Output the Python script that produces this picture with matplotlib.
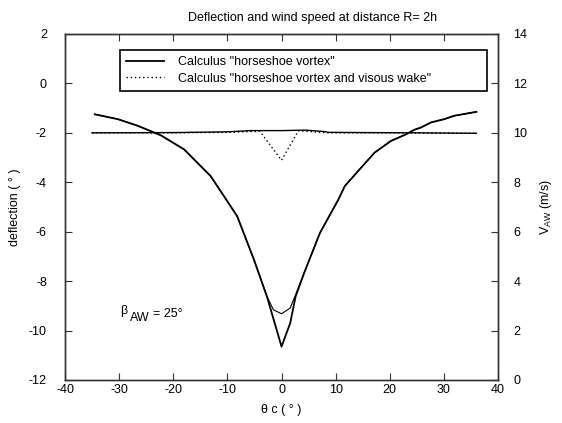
import matplotlib.pyplot as plt

# --- fonts ---
plt.rcParams['font.family'] = ['Liberation Sans', 'DejaVu Sans']
plt.rcParams['mathtext.fontset'] = 'custom'
plt.rcParams['mathtext.rm'] = 'Liberation Sans'
plt.rcParams['mathtext.it'] = 'Liberation Sans'
plt.rcParams['font.size'] = 9
plt.rcParams['axes.unicode_minus'] = False

# --- data ---
# deflection, "horseshoe vortex" (left axis)
theta_defl_hv = [-34.5, -30.2, -26.5, -22.3, -18.0, -13.1, -8.2, -5.1, -2.7, 0.0,
                 1.6, 2.6, 4.3, 7.1, 10.5, 11.7, 14.7, 17.2, 20.2, 23.0,
                 24.5, 25.7, 27.6, 30.0, 31.9, 36.0]
defl_hv = [-1.25, -1.45, -1.72, -2.10, -2.67, -3.75, -5.37, -7.13, -8.62, -10.65,
           -9.70, -8.62, -7.60, -6.05, -4.70, -4.15, -3.41, -2.80, -2.33, -2.06,
           -1.88, -1.79, -1.58, -1.45, -1.31, -1.15]

# deflection, "horseshoe vortex and viscous wake" (left axis)
theta_defl_vw = [-34.5, -30.2, -26.5, -22.3, -18.0, -13.1, -8.2, -5.1, -2.7, -1.5,
                 0.0, 1.6, 2.6, 4.3, 7.1, 10.5, 11.7, 14.7, 17.2, 20.2, 23.0,
                 24.5, 25.7, 27.6, 30.0, 31.9, 36.0]
defl_vw = [-1.25, -1.45, -1.72, -2.10, -2.67, -3.75, -5.37, -7.13, -8.62, -9.16,
           -9.32, -9.09, -8.55, -7.60, -6.05, -4.70, -4.15, -3.41, -2.80, -2.33, -2.06,
           -1.88, -1.79, -1.58, -1.45, -1.31, -1.15]

# wind speed V_AW (right axis)
theta_v_hv = [-35.0, -20.0, -10.0, -5.7, 0.0, 4.3, 8.0, 8.6, 15.0, 25.0, 36.0]
v_hv = [10.0, 10.01, 10.04, 10.09, 10.09, 10.11, 10.05, 10.02, 10.01, 10.0, 9.98]

theta_v_vw = [-35.0, -20.0, -10.0, -4.0, 0.0, 3.1, 8.6, 20.0, 36.0]
v_vw = [10.0, 10.0, 10.02, 10.06, 8.89, 10.08, 10.0, 10.0, 9.98]

x_ticks = [-40, -30, -20, -10, 0, 10, 20, 30, 40]
y_ticks = [2, 0, -2, -4, -6, -8, -10, -12]
y2_ticks = [0, 2, 4, 6, 8, 10, 12, 14]

# --- figure ---
fig = plt.figure(figsize=(5.62, 4.23), dpi=100)
ax = fig.add_axes([0.1157, 0.1017, 0.7705, 0.818])
ax2 = ax.twinx()

ax.plot(theta_defl_hv, defl_hv, color='black', linewidth=1.3)
ax.plot(theta_defl_vw, defl_vw, color='black', linewidth=0.8)
ax2.plot(theta_v_vw, v_vw, color='black', linewidth=1.0, linestyle=(0, (1, 2)))
ax2.plot(theta_v_hv, v_hv, color='black', linewidth=1.0)

ax.set_xlim(-40, 40)
ax.set_ylim(-12, 2)
ax2.set_ylim(0, 14)
ax.set_xticks(x_ticks)
ax.set_yticks(y_ticks)
ax2.set_yticks(y2_ticks)

for a in (ax, ax2):
    for s in a.spines.values():
        s.set_color('#333333')
        s.set_linewidth(1.0)

ax.tick_params(axis='x', direction='in', length=5, top=True, pad=3, color='#333333')
ax.tick_params(axis='y', direction='in', length=5, pad=13, color='#333333')
ax2.tick_params(axis='y', direction='in', length=5, pad=11, color='#333333')

ax.set_xlabel('θ c ( ° )', labelpad=6)
ax.set_ylabel('deflection ( ° )', labelpad=6)
ax2.set_ylabel(r'V$_{\rm AW}$ (m/s)', labelpad=8)

fig.text(0.556, 0.958, 'Deflection and wind speed at distance R= 2h', ha='center', va='center')

# beta annotation, gnuplot style (beta raised, AW lowered)
ax.text(-29.85, -9.33, 'β', fontsize=9, ha='left', va='baseline')
ax.text(-28.0, -9.62, 'AW', fontsize=9, ha='left', va='baseline')
ax.text(-23.7, -9.45, '= 25°', fontsize=9, ha='left', va='baseline')

# legend
h1, = ax.plot([], [], color='black', linewidth=1.3)
h2, = ax.plot([], [], color='black', linewidth=1.0, linestyle=(0, (1, 2)))
leg = ax.legend([h1, h2],
                ['Calculus "horseshoe vortex"', 'Calculus "horseshoe vortex and visous wake"'],
                loc='upper left', bbox_to_anchor=(0.127, 0.954, 0.848, 0.0), mode='expand',
                fancybox=False, edgecolor='black', framealpha=1, handlelength=3.0,
                handletextpad=1.1, borderpad=0.5, labelspacing=0.35, borderaxespad=0)
leg.get_frame().set_linewidth(1.2)

fig.savefig('out.png', dpi=100)
